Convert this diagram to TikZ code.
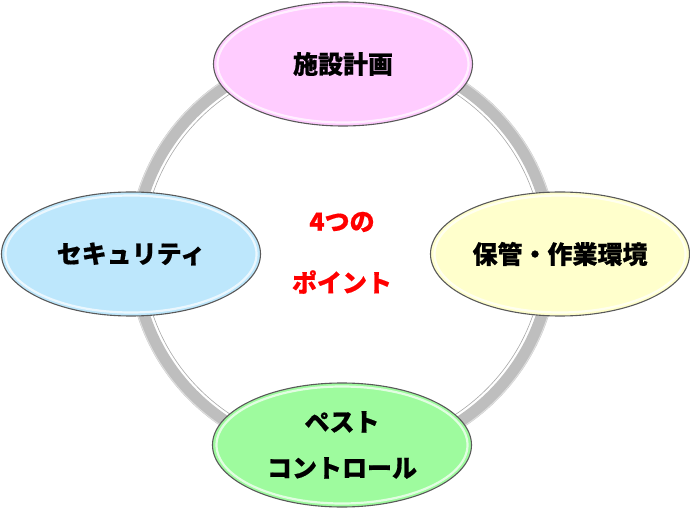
\documentclass[tikz,border=0pt]{standalone}
\usepackage{fontspec}
\newfontfamily\jp{Noto Sans CJK JP}[BoldFeatures={FakeBold=0.6}]
\usetikzlibrary{shapes.geometric}
\definecolor{ringgray}{HTML}{BEBEBE}
\definecolor{ringline}{HTML}{A8A8A8}
\definecolor{edgegray}{HTML}{5A5A5A}
\definecolor{cpink}{HTML}{FFCCFF}
\definecolor{cblue}{HTML}{BDE7FC}
\definecolor{cyellow}{HTML}{FFFFCC}
\definecolor{cgreen}{HTML}{9EFB9E}
\definecolor{cred}{HTML}{FF0000}
\tikzset{
  bubble/.style={ellipse, draw=edgegray, line width=1.1pt, inner sep=0pt,
    minimum width=259pt, minimum height=124pt, align=center,
    font=\jp\bfseries\fontsize{25pt}{46pt}\selectfont, text=black},
  glow/.style={white, line width=2.2pt, opacity=0.7},
  redtext/.style={font=\jp\bfseries\fontsize{25pt}{28pt}\selectfont, text=cred, inner sep=0pt},
  ringband/.style={ringgray, line width=12.5pt},
  ringedge/.style={ringline, line width=0.6pt},
  ringhigh/.style={white, line width=1pt, opacity=0.5}
}
\begin{document}
\begin{tikzpicture}[x=1pt,y=-1pt]
\useasboundingbox (0,0) rectangle (690,510);
\coordinate (c) at (343,254);
% ring
\draw[ringband] (c) ellipse [x radius=209, y radius=203];
\draw[ringhigh] (c) ellipse [x radius=214.5, y radius=208.5];
\draw[ringedge] (c) ellipse [x radius=200, y radius=194];
% bubbles
\node[bubble, fill=cpink] (top) at (343,64) {施設計画};
\node[bubble, fill=cblue] (left) at (131,254) {セキュリティ};
\node[bubble, fill=cyellow] (right) at (560,254) {保管・作業環境};
\node[bubble, fill=cgreen] (bottom) at (342,445) {ペスト\\コントロール};
% inner highlights
\foreach \p in {(343,64),(131,254),(560,254),(342,445)}{
  \draw[glow] \p ellipse [x radius=125.5, y radius=58.5];
}
% center text
\node[redtext] (t1) at (342,222) {4つの};
\node[redtext] (t2) at (342,282) {ポイント};
\end{tikzpicture}
\end{document}
